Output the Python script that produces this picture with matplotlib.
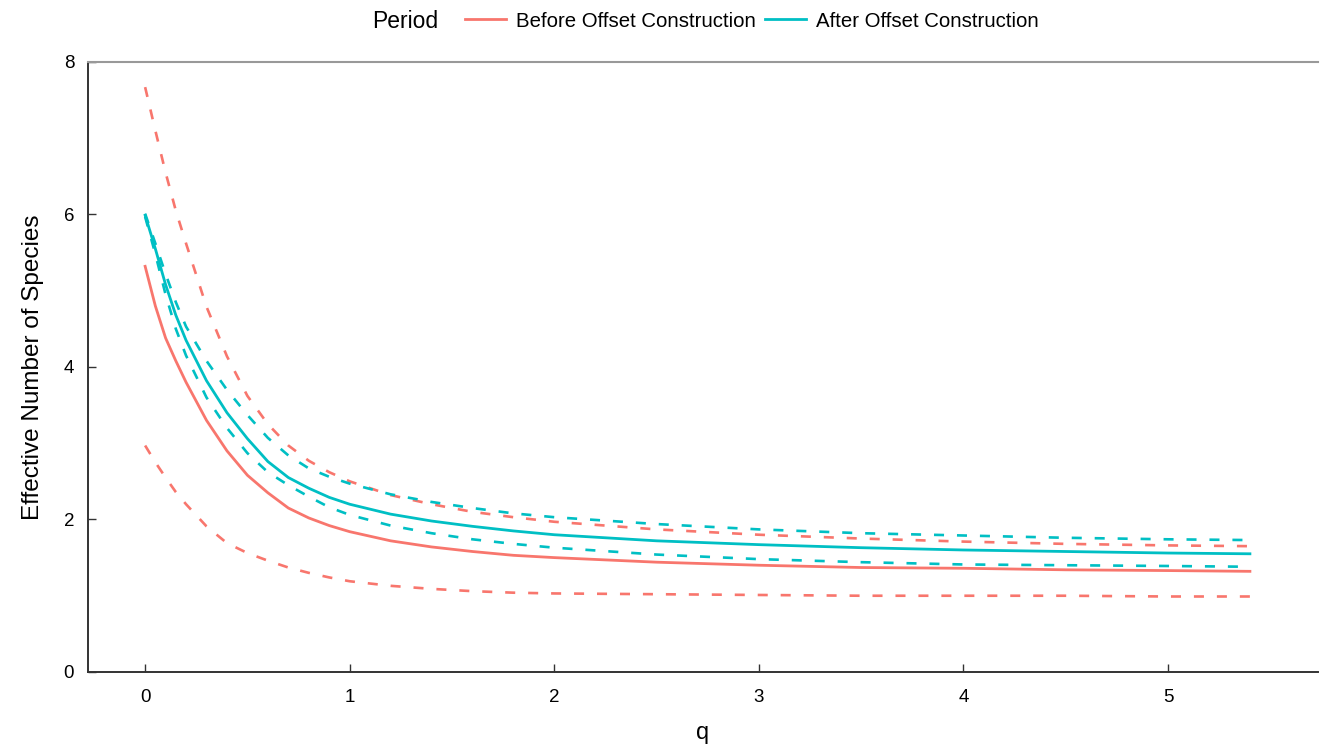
import matplotlib.pyplot as plt

plt.rcParams['font.family'] = ['Liberation Sans', 'DejaVu Sans']

# diversity order q
q = [0, 0.05, 0.1, 0.15, 0.2, 0.3, 0.4, 0.5, 0.6, 0.7, 0.8, 0.9, 1.0,
     1.2, 1.4, 1.6, 1.8, 2.0, 2.5, 3.0, 3.5, 4.0, 4.5, 5.0, 5.4]

# before offset construction: estimate and confidence bounds
before_est = [5.32, 4.80, 4.38, 4.08, 3.80, 3.30, 2.90, 2.58, 2.35, 2.15, 2.02, 1.92, 1.84,
              1.72, 1.64, 1.58, 1.53, 1.50, 1.44, 1.40, 1.37, 1.36, 1.34, 1.33, 1.32]
before_upper = [7.67, 7.10, 6.55, 6.05, 5.62, 4.79, 4.14, 3.62, 3.25, 2.97, 2.77, 2.62, 2.50,
                2.32, 2.20, 2.10, 2.03, 1.97, 1.87, 1.80, 1.75, 1.71, 1.68, 1.66, 1.65]
before_lower = [2.97, 2.75, 2.55, 2.36, 2.20, 1.91, 1.69, 1.56, 1.46, 1.37, 1.30, 1.24, 1.19,
                1.13, 1.09, 1.06, 1.04, 1.03, 1.02, 1.01, 1.00, 1.00, 1.00, 0.99, 0.99]

# after offset construction
after_est = [5.99, 5.55, 5.08, 4.68, 4.35, 3.82, 3.40, 3.06, 2.76, 2.55, 2.41, 2.29, 2.20,
             2.07, 1.98, 1.91, 1.85, 1.80, 1.72, 1.67, 1.63, 1.60, 1.58, 1.56, 1.55]
after_upper = [6.01, 5.62, 5.22, 4.85, 4.53, 4.08, 3.70, 3.37, 3.07, 2.84, 2.67, 2.56, 2.47,
               2.33, 2.23, 2.15, 2.08, 2.03, 1.94, 1.87, 1.82, 1.79, 1.76, 1.74, 1.73]
after_lower = [5.97, 5.48, 4.95, 4.50, 4.15, 3.60, 3.20, 2.87, 2.62, 2.45, 2.30, 2.16, 2.06,
               1.92, 1.82, 1.74, 1.68, 1.63, 1.54, 1.48, 1.44, 1.41, 1.40, 1.39, 1.38]

RED = '#F8766D'
TEAL = '#00BFC4'
dash = (0, (3.8, 4.9))

fig = plt.figure(figsize=(13.26, 7.52), dpi=100)
ax = fig.add_axes([0.0664, 0.1064, 0.9276, 0.8112])

ax.plot(q, before_upper, color=RED, lw=1.9, linestyle=dash)
ax.plot(q, before_lower, color=RED, lw=1.9, linestyle=dash)
ax.plot(q, after_upper, color=TEAL, lw=1.9, linestyle=dash)
ax.plot(q, after_lower, color=TEAL, lw=1.9, linestyle=dash)
l1, = ax.plot(q, before_est, color=RED, lw=2.0, label='Before Offset Construction')
l2, = ax.plot(q, after_est, color=TEAL, lw=2.0, label='After Offset Construction')

ax.set_xlim(-0.279, 5.733)
ax.set_ylim(0, 8)
ax.set_xticks([0, 1, 2, 3, 4, 5])
ax.set_yticks([0, 2, 4, 6, 8])
ax.tick_params(direction='in', length=6, width=1, labelsize=13.5, color='#333333')
ax.tick_params(axis='x', pad=12)
ax.tick_params(axis='y', pad=10)

ax.spines['right'].set_visible(False)
ax.spines['top'].set_color('#999999')
ax.spines['top'].set_linewidth(1.5)
for s in ['left', 'bottom']:
    ax.spines[s].set_color('#333333')
    ax.spines[s].set_linewidth(1.4)

ax.set_xlabel('q', fontsize=17, labelpad=12)
ax.set_ylabel('Effective Number of Species', fontsize=17.5, labelpad=14)

fig.text(0.281, 0.972, 'Period', fontsize=16.5, va='center', ha='left')
fig.legend(handles=[l1, l2], loc='center', bbox_to_anchor=(0.567, 0.972), ncol=2,
           frameon=False, fontsize=14.7, handlelength=2.0, handletextpad=0.5,
           columnspacing=0.45)

fig.savefig('out.png', dpi=100)
